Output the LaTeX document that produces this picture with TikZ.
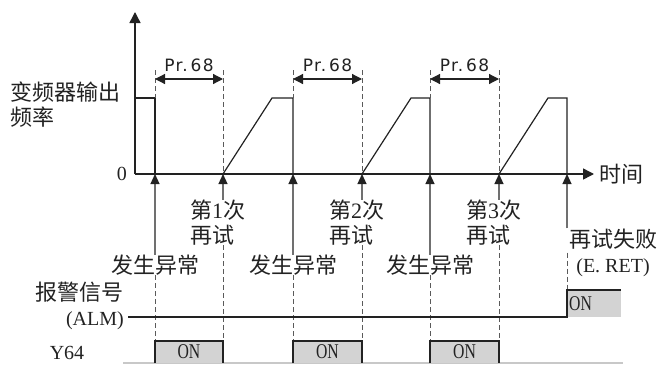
\documentclass[tikz,border=0pt]{standalone}
\usepackage{fontspec}
\newfontfamily\numfont{Liberation Serif}
\newfontfamily\onfont{Liberation Serif}[FakeStretch=0.75]
\newfontfamily\cjk{Noto Sans CJK SC}
\newfontfamily\prfont{DejaVu Sans}[LetterSpace=8]
\usepackage{tikz}
\usetikzlibrary{arrows.meta, positioning, calc}
\definecolor{evgray}{HTML}{707070}
\definecolor{dashgray}{HTML}{5A5A5A}
\definecolor{boxgray}{HTML}{D3D3D3}
\definecolor{basegray}{HTML}{C8C8C8}
\definecolor{inkdark}{HTML}{222222}

\tikzset{
  axis/.style={inkdark, line width=1.5pt, -{Triangle[length=11pt, width=11pt]}},
  trace/.style={inkdark, line width=1.2pt},
  guide/.style={dashgray, line width=1pt, dash pattern=on 5pt off 3pt},
  event/.style={evgray, line width=1.2pt, -{Triangle[length=10pt, width=9pt, color=inkdark]}},
  dim/.style={inkdark, line width=1.2pt,
    {Triangle[length=10pt, width=10pt]}-{Triangle[length=10pt, width=10pt]}},
  zh/.style={font=\cjk\fontsize{22}{25}\selectfont, inner sep=0pt, text=inkdark},
  lat/.style={font=\numfont\fontsize{20}{25}\selectfont, inner sep=0pt, text=inkdark},
  onlabel/.style={font=\onfont\fontsize{21}{25}\selectfont, inner sep=0pt, text=inkdark},
  prlabel/.style={font=\prfont\fontsize{17}{19}\selectfont, text=inkdark}
}

\begin{document}
\begin{tikzpicture}[x=1pt, y=-1pt]
  \useasboundingbox (0,0) rectangle (665,365);

  % Levels
  \coordinate (O) at (135,174);
  \coordinate (ytop) at (135,12);
  \coordinate (xend) at (594,174);
  \coordinate (hi) at (135,98);
  \coordinate (dimy) at (135,79);
  \coordinate (gtop) at (135,70);
  \coordinate (fy) at (135,265);
  \coordinate (ry) at (135,222.5);
  \coordinate (almy) at (135,317);
  \coordinate (almhi) at (135,290);
  \coordinate (almstart) at (128,317);
  \coordinate (almend) at (621,290);
  \coordinate (ytop64) at (135,341);
  \coordinate (ybot64) at (135,363);
  \foreach \n/\x in {e1/155, r1/223, e2/293, r2/362, e3/430, r3/499, e4/567}
    \coordinate (\n) at (\x,174);

  % Axes
  \draw[axis] (O) -- (ytop);
  \draw[axis] (O) -- (xend);
  \node[lat, anchor=east] (zero) at ([xshift=-8pt]O) {0};
  \node[zh, anchor=west] (time) at ([xshift=5pt]xend) {时间};
  \node[zh, align=left, anchor=west] (fout) at (10,104.5) {变频器输出\\频率};

  % Output frequency
  \draw[trace] (hi) -- (e1 |- hi) -- (e1);
  \foreach \r/\e in {r1/e2, r2/e3, r3/e4}
    \draw[trace] (\r) -- ++(49,-76) -- (\e |- hi) -- (\e);

  % Pr.68 intervals
  \foreach \e/\r in {e1/r1, e2/r2, e3/r3} {
    \draw[guide] (\e |- gtop) -- (\e |- hi);
    \draw[guide] (\r |- gtop) -- (\r);
    \draw[dim] (\e |- dimy) -- (\r |- dimy)
      node[midway, above=3pt, prlabel] {Pr.\,68};
  }

  % Faults
  \foreach \e/\i in {e1/1, e2/2, e3/3} {
    \node[zh] (fault\i) at (\e |- fy) {发生异常};
    \draw[event] (fault\i) -- (\e);
    \draw[guide] (fault\i.south) -- (\e |- ytop64);
  }

  % Retries
  \foreach \r/\i in {r1/1, r2/2, r3/3} {
    \node[zh, align=left, anchor=west] (retry\i) at ($(\r |- ry)+(-33,0)$)
      {第{\numfont\i}次\\再试};
    \draw[event] (\r |- retry\i.north) -- (\r);
    \draw[guide] (\r |- retry\i.south) -- (\r |- ytop64);
  }

  % Retry failed
  \node[zh, align=center] (fail) at (613,252.5)
    {再试失败\\{\numfont\fontsize{20}{25}\selectfont (E.~RET)}};
  \draw[event] (e4 |- fail.north) -- (e4);
  \draw[guide] (e4 |- fail.center) -- (e4 |- almhi);

  % Alarm signal
  \node[zh, align=right, anchor=east] (alm) at (124,306)
    {报警信号\\{\numfont\fontsize{20}{25}\selectfont (ALM)}};
  \fill[boxgray] (e4 |- almhi) rectangle (almend |- almy);
  \draw[trace] (almstart) -- (e4 |- almy) -- (e4 |- almhi) -- (almend);
  \node[onlabel, anchor=west] (almon) at ($(e4 |- almy)!0.5!(e4 |- almhi)+(2,0)$) {ON};

  % Y64
  \node[lat] (y64) at (67,353) {Y64};
  \draw[basegray, line width=1.5pt] (123,363) -- (623,363);
  \foreach \e/\r/\i in {e1/r1/1, e2/r2/2, e3/r3/3} {
    \fill[boxgray] (\e |- ytop64) rectangle (\r |- ybot64);
    \draw[trace] (\e |- ybot64) -- (\e |- ytop64) -- (\r |- ytop64) -- (\r |- ybot64);
    \node[onlabel] (on\i) at ($(\e |- ytop64)!0.5!(\r |- ybot64)$) {ON};
  }
\end{tikzpicture}
\end{document}
